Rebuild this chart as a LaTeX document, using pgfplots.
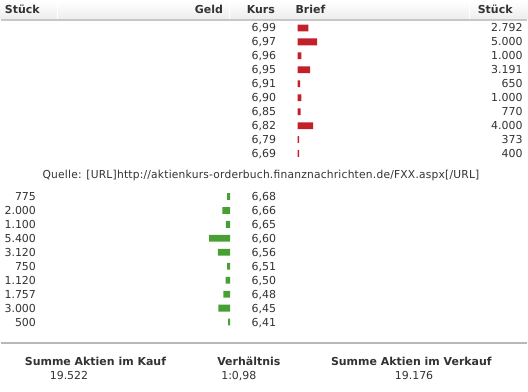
\documentclass[border=0pt]{standalone}
\usepackage{fontspec}
\setmainfont{DejaVu Sans}
\usepackage{graphicx}
\usepackage{pgfplots}
\pgfplotsset{compat=1.18}
\definecolor{askred}{RGB}{196,32,42}
\definecolor{bidgreen}{RGB}{72,160,52}
\definecolor{txt}{RGB}{51,51,51}
\begin{document}
\begin{tikzpicture}[x=1pt,y=1pt, every node/.style={inner sep=0pt, text=txt, font=\fontsize{11}{13}\selectfont}]
\path[fill=white] (0,0) rectangle (528,-392);
% header
\shade[top color=white,bottom color=black!7] (0,0) rectangle (528,-19);
\foreach \xx in {57,229,470} \draw[white,line width=1pt] (\xx,0) -- (\xx,-19);
\draw[black!22, line width=1.5pt] (0,-19.5) -- (528,-19.5);
\node[anchor=base west, font=\fontsize{11}{13}\selectfont\bfseries] at (4,-13) {Stück};
\node[anchor=base east, font=\fontsize{11}{13}\selectfont\bfseries] at (223,-13) {Geld};
\node[anchor=base west, font=\fontsize{11}{13}\selectfont\bfseries] at (246.5,-13) {Kurs};
\node[anchor=base west, font=\fontsize{11}{13}\selectfont\bfseries] at (295.5,-13) {Brief};
\node[anchor=base east, font=\fontsize{11}{13}\selectfont\bfseries] at (513.5,-13) {Stück};

% ask side (Brief)
\begin{axis}[at={(297.7pt,-20.5pt)}, anchor=north west, x=0.0039pt, y=14pt,
  y dir=reverse, xmin=0, xmax=6000, ymin=-0.5, ymax=9.5, hide axis, clip=false,
  xbar, bar width=6.8pt]
\addplot[fill=askred, draw=none] coordinates {
(2792,0) (5000,1) (1000,2) (3191,3) (650,4) (1000,5) (770,6) (4000,7) (373,8) (400,9)};
\end{axis}
\foreach \k/\q [count=\i from 0] in {6{,}99/2.792, 6{,}97/5.000, 6{,}96/1.000, 6{,}95/3.191, 6{,}91/650, 6{,}90/1.000, 6{,}85/770, 6{,}82/4.000, 6{,}79/373, 6{,}69/400}{
  \node[anchor=base west] at (251.5,-31.5-14*\i) {\k};
  \node[anchor=base east] at (523.5,-31.5-14*\i) {\q};
}

\node[anchor=base west] at (41.7,-179) {\resizebox{438pt}{\height}{\addfontfeature{LetterSpace=2}Quelle: [URL]http://aktienkurs-orderbuch.finanznachrichten.de/FXX.aspx[/URL]}};

% bid side (Geld)
\begin{axis}[at={(230pt,-189.5pt)}, anchor=north east, x=0.0039pt, y=14pt,
  y dir=reverse, x dir=reverse, xmin=0, xmax=6000, ymin=-0.5, ymax=9.5, hide axis, clip=false,
  xbar, bar width=6.8pt]
\addplot[fill=bidgreen, draw=none] coordinates {
(775,0) (2000,1) (1100,2) (5400,3) (3120,4) (750,5) (1120,6) (1757,7) (3000,8) (500,9)};
\end{axis}
\foreach \q/\k [count=\i from 0] in {775/6{,}68, 2.000/6{,}66, 1.100/6{,}65, 5.400/6{,}60, 3.120/6{,}56, 750/6{,}51, 1.120/6{,}50, 1.757/6{,}48, 3.000/6{,}45, 500/6{,}41}{
  \node[anchor=base east] at (35.5,-200.5-14*\i) {\q};
  \node[anchor=base west] at (251.5,-200.5-14*\i) {\k};
}

% footer
\draw[black!28, line width=1.5pt] (0,-343.5) -- (528,-343.5);
\node[anchor=base west, font=\fontsize{11}{13}\selectfont\bfseries] at (24,-366.5) {Summe Aktien im Kauf};
\node[anchor=base west, font=\fontsize{11}{13}\selectfont\bfseries] at (217,-366.5) {Verhältnis};
\node[anchor=base west, font=\fontsize{11}{13}\selectfont\bfseries] at (331,-366.5) {Summe Aktien im Verkauf};
\node[anchor=base west] at (49,-380.5) {19.522};
\node[anchor=base west] at (221,-380.5) {1:0,98};
\node[anchor=base west] at (395,-380.5) {19.176};
\end{tikzpicture}
\end{document}
